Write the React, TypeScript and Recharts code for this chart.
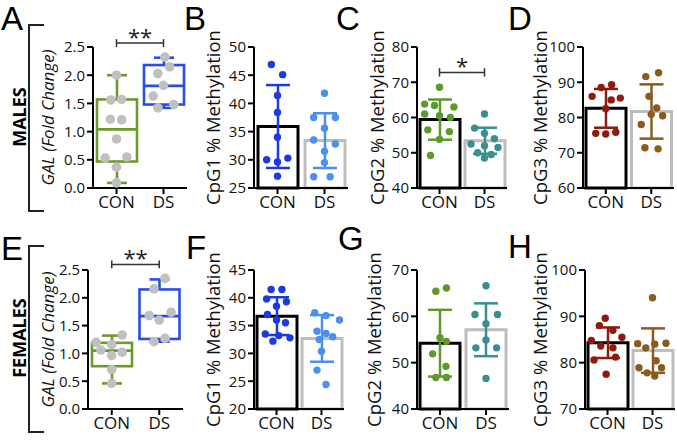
import React from 'react';
import {
  ComposedChart,
  Bar,
  Cell,
  ErrorBar,
  Scatter,
  XAxis,
  YAxis,
  ReferenceLine,
} from 'recharts';

const groups = ['CON', 'DS'];

// ---- MALES ----
// box plots: min, q1, median, q3, max
const aBoxCon = [0.09, 0.47, 1.04, 1.57, 2.0];
const aBoxDs = [1.42, 1.48, 1.81, 2.18, 2.31];
const aDotsCon = [2.0, 1.57, 1.56, 1.22, 1.21, 0.87, 0.55, 0.53, 0.37, 0.09];
const aJitCon = [0, 0.11, -0.12, -0.13, 0.11, 0, 0.22, -0.24, 0, 0];
const aDotsDs = [2.32, 2.15, 2.03, 1.82, 1.63, 1.48, 1.42];
const aJitDs = [0.03, 0.13, -0.12, 0, -0.22, 0.22, -0.12];

const bMean = [35.9, 33.4];
const bSd = [7.35, 4.85];
const bDotsCon = [46.9, 45.1, 41.4, 38.4, 34.0, 30.3, 30.0, 29.6, 27.1];
const bJitCon = [-0.13, 0.11, 0, 0, 0, 0.22, -0.23, 0, 0];
const bDotsDs = [41.8, 37.5, 37.5, 35.6, 33.5, 32.8, 31.5, 29.5, 27.0, 27.0];
const bJitDs = [0, -0.23, 0.23, 0, -0.23, 0.23, 0, 0, -0.23, 0.12];

const cMean = [59.4, 53.4];
const cSd = [5.7, 3.7];
const cDotsCon = [68.6, 63.8, 63.4, 63.0, 61.0, 60.5, 60.0, 56.5, 56.0, 53.8, 49.2];
const cJitCon = [0, -0.33, -0.11, 0.32, -0.33, 0, 0.24, -0.26, 0.22, 0, -0.2];
const cDotsDs = [61.0, 57.0, 55.5, 54.0, 52.5, 52.0, 51.5, 50.0, 49.5, 48.5];
const cJitDs = [0, -0.22, 0, 0.22, -0.3, 0, 0.3, -0.15, 0.15, 0];

const dMean = [82.6, 81.7];
const dSd = [5.5, 7.7];
const dDotsCon = [89.3, 88.5, 86.0, 85.5, 85.0, 82.5, 75.8, 75.5, 75.3];
const dJitCon = [0.13, -0.1, -0.3, 0.32, 0.12, 0, 0.22, -0.22, 0];
const dDotsDs = [92.7, 91.6, 86.0, 82.7, 80.9, 80.5, 78.0, 71.4, 71.1];
const dJitDs = [0.16, -0.12, -0.05, 0.12, 0, 0.25, -0.22, -0.14, 0.15];

// ---- FEMALES ----
const eBoxCon = [0.46, 0.77, 1.05, 1.19, 1.32];
const eBoxDs = [1.21, 1.26, 1.67, 2.15, 2.33];
const eDotsCon = [1.33, 1.2, 1.16, 1.06, 1.02, 0.96, 0.71, 0.46];
const eJitCon = [0.22, -0.33, 0, -0.23, 0.22, 0, 0, 0];
const eDotsDs = [2.35, 2.16, 1.74, 1.68, 1.6, 1.27, 1.21];
const eJitDs = [0.12, -0.11, 0.25, -0.21, 0, 0.12, -0.11];

const fMean = [36.7, 32.7];
const fSd = [3.4, 4.2];
const fDotsCon = [41.5, 41.5, 39.8, 39.3, 38.5, 37.0, 36.0, 35.5, 33.5, 33.2, 32.8, 32.2];
const fJitCon = [-0.12, 0.12, -0.22, 0.22, 0, -0.2, 0, 0.2, -0.25, 0.05, 0.3, -0.08];
const fDotsDs = [37.3, 36.8, 36.0, 34.0, 33.6, 33.0, 32.5, 30.4, 27.0, 24.4];
const fJitDs = [-0.15, 0.1, 0.4, -0.1, 0.1, 0.25, -0.05, 0, -0.1, 0.1];

const gMean = [54.2, 57.1];
const gSd = [7.2, 5.7];
const gDotsCon = [66.1, 65.4, 55.4, 54.6, 51.9, 49.2, 46.8, 46.8];
const gJitCon = [0.14, -0.09, 0, 0.14, -0.16, 0.13, -0.09, 0.14];
const gDotsDs = [66.6, 60.4, 60.4, 58.4, 54.9, 53.2, 53.2, 46.6];
const gJitDs = [0, -0.24, 0.25, 0, 0, -0.22, 0.23, 0];

const hMean = [84.3, 82.6];
const hSd = [3.3, 4.8];
const hDotsCon = [89.6, 88.0, 87.0, 85.5, 84.8, 83.6, 83.2, 81.2, 80.6, 77.5];
const hJitCon = [-0.05, -0.18, 0.12, 0.32, -0.36, -0.15, 0.12, 0.18, -0.3, -0.03];
const hDotsDs = [94.0, 84.2, 84.1, 84.0, 83.2, 80.4, 78.9, 78.9, 77.8, 77.1];
const hJitDs = [0, 0.3, -0.33, 0.05, -0.15, 0.08, -0.3, 0.2, -0.12, 0.05];

// colours
const ink = '#111';
const boxColors = ['#6d9a2e', '#2b4de6'];
const grey = '#c0c0c0';
const barStroke = ['#000', '#bdbdbd'];
const blues = ['#1d3ade', '#4c90ef'];
const greens = ['#5c9a2b', '#3a8e90'];
const reds = ['#8e1b0c', '#8c5a1c'];

const boxRows = (con: number[], ds: number[]) =>
  [con, ds].map((b, i) => ({ name: groups[i], min: b[0], q1: b[1], med: b[2], q3: b[3], max: b[4] }));

const barRows = (mean: number[], sd: number[]) =>
  mean.map((m, i) => ({
    name: groups[i],
    mean: m,
    errCon: i === 0 ? sd[0] : 0,
    errDs: i === 1 ? sd[1] : 0,
  }));

const dots = (vals: number[], jit: number[], g: number) =>
  vals.map((y, i) => ({ x: g + jit[i], y }));

const BoxShape = (props: any) => {
  const { x, y, width, height, payload, index, colors } = props;
  const span = payload.max - payload.min;
  const py = (v: number) => y + ((payload.max - v) / span) * height;
  const cx = x + width / 2;
  const cap = 10;
  return (
    <g stroke={colors[index]} strokeWidth={2.6} fill="none">
      <line x1={cx} x2={cx} y1={py(payload.max)} y2={py(payload.q3)} />
      <line x1={cx} x2={cx} y1={py(payload.q1)} y2={py(payload.min)} />
      <line x1={cx - cap} x2={cx + cap} y1={py(payload.max)} y2={py(payload.max)} />
      <line x1={cx - cap} x2={cx + cap} y1={py(payload.min)} y2={py(payload.min)} />
      <rect x={x} y={py(payload.q3)} width={width} height={py(payload.q1) - py(payload.q3)} />
      <line x1={x} x2={x + width} y1={py(payload.med)} y2={py(payload.med)} />
    </g>
  );
};

type Pt = { x: number; y: number };
type Sig = { y: number; d: number; text: string };
type PanelProps = {
  left: number;
  top: number;
  yWidth: number;
  plotW: number;
  plotH: number;
  domain: [number, number];
  ticks: number[];
  fmt?: (v: number) => string;
  title: string;
  italic?: boolean;
  box?: { con: number[]; ds: number[] };
  bar?: { mean: number[]; sd: number[] };
  con: Pt[];
  ds: Pt[];
  dotColors: string[];
  r: number;
  sig?: Sig;
};

const axisStyle = { stroke: '#000', strokeWidth: 2 };

function Panel(p: PanelProps) {
  const rows: any[] = p.box ? boxRows(p.box.con, p.box.ds) : barRows(p.bar!.mean, p.bar!.sd);
  const dot = (color: string) => (s: any) => <circle cx={s.cx} cy={s.cy} r={p.r} fill={color} />;
  return (
    <div style={{ position: 'absolute', left: p.left, top: p.top }}>
      <ComposedChart
        width={p.yWidth + p.plotW + 4}
        height={27 + p.plotH + 30}
        data={rows}
        margin={{ top: 27, right: 4, bottom: 0, left: 0 }}
      >
        <XAxis
          dataKey="name"
          height={30}
          axisLine={axisStyle}
          tickLine={axisStyle}
          tickSize={6}
          tick={{ fill: ink, fontSize: 17 }}
        />
        <XAxis xAxisId="n" type="number" dataKey="x" domain={[-0.5, 1.5]} hide />
        <YAxis
          width={p.yWidth}
          domain={p.domain}
          ticks={p.ticks}
          interval={0}
          tickFormatter={p.fmt}
          axisLine={axisStyle}
          tickLine={axisStyle}
          tickSize={6}
          tick={{ fill: ink, fontSize: 15 }}
          label={{
            value: p.title,
            angle: -90,
            position: 'insideLeft',
            offset: 14,
            fontSize: p.italic ? 17 : 18.5,
            fill: ink,
            fontStyle: p.italic ? 'italic' : 'normal',
            style: { textAnchor: 'middle' },
          }}
        />
        {p.box ? (
          <Bar
            dataKey={(d: any) => [d.min, d.max]}
            barSize={40}
            isAnimationActive={false}
            shape={(s: any) => <BoxShape {...s} colors={boxColors} />}
          />
        ) : (
          <Bar dataKey="mean" barSize={40} fill="#fff" strokeWidth={3} isAnimationActive={false}>
            {rows.map((_, i) => (
              <Cell key={i} stroke={barStroke[i]} />
            ))}
            <ErrorBar dataKey="errCon" width={12} stroke={p.dotColors[0]} strokeWidth={2.5} />
            <ErrorBar dataKey="errDs" width={12} stroke={p.dotColors[1]} strokeWidth={2.5} />
          </Bar>
        )}
        <Scatter xAxisId="n" data={p.con} dataKey="y" shape={dot(p.dotColors[0])} isAnimationActive={false} />
        <Scatter xAxisId="n" data={p.ds} dataKey="y" shape={dot(p.dotColors[1])} isAnimationActive={false} />
        {p.sig && (
          <ReferenceLine
            segment={[{ x: 'CON', y: p.sig.y }, { x: 'DS', y: p.sig.y }]}
            stroke="#333"
            strokeWidth={1.5}
            ifOverflow="visible"
            label={{ value: p.sig.text, position: 'top', offset: -2, fontSize: 22, fill: '#222' }}
          />
        )}
        {p.sig && (
          <ReferenceLine
            segment={[{ x: 'CON', y: p.sig.y - p.sig.d }, { x: 'CON', y: p.sig.y + p.sig.d }]}
            stroke="#333"
            strokeWidth={1.5}
            ifOverflow="visible"
          />
        )}
        {p.sig && (
          <ReferenceLine
            segment={[{ x: 'DS', y: p.sig.y - p.sig.d }, { x: 'DS', y: p.sig.y + p.sig.d }]}
            stroke="#333"
            strokeWidth={1.5}
            ifOverflow="visible"
          />
        )}
      </ComposedChart>
    </div>
  );
}

const letter = (t: string, left: number, top: number) => (
  <div
    key={t}
    style={{
      position: 'absolute',
      left,
      top,
      fontFamily: '"Liberation Sans", sans-serif',
      fontSize: 33,
      lineHeight: 'normal',
      color: '#000',
    }}
  >
    {t}
  </div>
);

const Bracket = ({ top, text }: { top: number; text: string }) => (
  <>
    <div
      style={{
        position: 'absolute',
        left: 28,
        top,
        width: 14,
        height: 184,
        borderLeft: '2px solid #222',
        borderTop: '2px solid #222',
        borderBottom: '2px solid #222',
      }}
    />
    <div
      style={{
        position: 'absolute',
        left: 18.5,
        top: top + 93,
        transform: 'translate(-50%, -50%) rotate(-90deg)',
        fontSize: 18,
        fontWeight: 700,
        lineHeight: '22px',
        whiteSpace: 'nowrap',
        color: '#000',
      }}
    >
      {text}
    </div>
  </>
);

const fold = (v: number) => v.toFixed(1);

export default function App() {
  return (
    <div
      style={{
        position: 'absolute',
        left: 0,
        top: 0,
        width: 677,
        height: 442,
        background: '#fff',
        fontFamily: '"Open Sans", sans-serif',
      }}
    >
      {letter('A', 1, 0)}
      {letter('B', 184, 0)}
      {letter('C', 336, 0)}
      {letter('D', 508, 0)}
      {letter('E', 1, 230)}
      {letter('F', 186, 229)}
      {letter('G', 338, 220)}
      {letter('H', 508, 228)}
      <Bracket top={24} text="MALES" />
      <Bracket top={245} text="FEMALES" />

      <Panel
        left={34} top={20} yWidth={59} plotW={94} plotH={141}
        domain={[0, 2.5]} ticks={[0, 0.5, 1, 1.5, 2, 2.5]} fmt={fold}
        title="GAL (Fold Change)" italic
        box={{ con: aBoxCon, ds: aBoxDs }}
        con={dots(aDotsCon, aJitCon, 0)} ds={dots(aDotsDs, aJitDs, 1)}
        dotColors={[grey, grey]} r={4.8}
        sig={{ y: 2.57, d: 0.07, text: '**' }}
      />
      <Panel
        left={199} top={20} yWidth={55} plotW={94} plotH={141}
        domain={[25, 50]} ticks={[25, 30, 35, 40, 45, 50]}
        title="CpG1 % Methylation"
        bar={{ mean: bMean, sd: bSd }}
        con={dots(bDotsCon, bJitCon, 0)} ds={dots(bDotsDs, bJitDs, 1)}
        dotColors={blues} r={3.7}
      />
      <Panel
        left={363} top={20} yWidth={54} plotW={90} plotH={141}
        domain={[40, 80]} ticks={[40, 50, 60, 70, 80]}
        title="CpG2 % Methylation"
        bar={{ mean: cMean, sd: cSd }}
        con={dots(cDotsCon, cJitCon, 0)} ds={dots(cDotsDs, cJitDs, 1)}
        dotColors={greens} r={3.7}
        sig={{ y: 72.8, d: 1.2, text: '*' }}
      />
      <Panel
        left={526} top={20} yWidth={57} plotW={91} plotH={141}
        domain={[60, 100]} ticks={[60, 70, 80, 90, 100]}
        title="CpG3 % Methylation"
        bar={{ mean: dMean, sd: dSd }}
        con={dots(dDotsCon, dJitCon, 0)} ds={dots(dDotsDs, dJitDs, 1)}
        dotColors={reds} r={3.7}
      />

      <Panel
        left={34} top={243} yWidth={54} plotW={95} plotH={139}
        domain={[0, 2.5]} ticks={[0, 0.5, 1, 1.5, 2, 2.5]} fmt={fold}
        title="GAL (Fold Change)" italic
        box={{ con: eBoxCon, ds: eBoxDs }}
        con={dots(eDotsCon, eJitCon, 0)} ds={dots(eDotsDs, eJitDs, 1)}
        dotColors={[grey, grey]} r={4.8}
        sig={{ y: 2.6, d: 0.07, text: '**' }}
      />
      <Panel
        left={199} top={243} yWidth={55} plotW={90} plotH={139}
        domain={[20, 45]} ticks={[20, 25, 30, 35, 40, 45]}
        title="CpG1 % Methylation"
        bar={{ mean: fMean, sd: fSd }}
        con={dots(fDotsCon, fJitCon, 0)} ds={dots(fDotsDs, fJitDs, 1)}
        dotColors={blues} r={3.7}
      />
      <Panel
        left={360} top={243} yWidth={57} plotW={92} plotH={139}
        domain={[40, 70]} ticks={[40, 50, 60, 70]}
        title="CpG2 % Methylation"
        bar={{ mean: gMean, sd: gSd }}
        con={dots(gDotsCon, gJitCon, 0)} ds={dots(gDotsDs, gJitDs, 1)}
        dotColors={greens} r={3.7}
      />
      <Panel
        left={526} top={243} yWidth={59} plotW={90} plotH={139}
        domain={[70, 100]} ticks={[70, 80, 90, 100]}
        title="CpG3 % Methylation"
        bar={{ mean: hMean, sd: hSd }}
        con={dots(hDotsCon, hJitCon, 0)} ds={dots(hDotsDs, hJitDs, 1)}
        dotColors={reds} r={3.7}
      />
    </div>
  );
}
